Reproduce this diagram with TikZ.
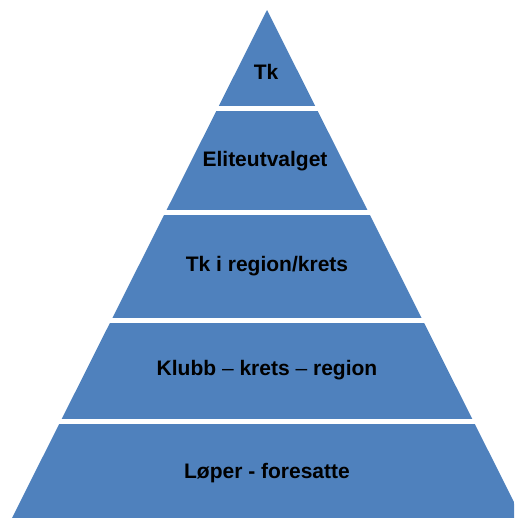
\documentclass[tikz,border=0pt]{standalone}
\usepackage{fontspec}
\setmainfont{Liberation Sans}
\definecolor{tierblue}{HTML}{4F81BD}
\begin{document}
\begin{tikzpicture}[x=1pt,y=-1pt,
  tier/.style={fill=tierblue},
  label/.style={font=\fontsize{21}{25}\selectfont\bfseries, text=black, anchor=base, inner sep=0pt}]
\useasboundingbox (0,0) rectangle (514,518);
\begin{scope}
  \clip (0,0) rectangle (514,518);
  \clip (267,10) -- (12,518) -- (522,518) -- cycle;
  \fill[tier] (0,10) rectangle (530,106);
  \fill[tier] (0,111) rectangle (530,210);
  \fill[tier] (0,215) rectangle (530,318);
  \fill[tier] (0,322.5) rectangle (530,419);
  \fill[tier] (0,424) rectangle (530,530);
\end{scope}
\node[label] (t1) at (266,80) {Tk};
\node[label] (t2) at (265,167) {Eliteutvalget};
\node[label] (t3) at (267,271) {Tk i region/krets};
\node[label] (t4) at (267,375) {Klubb {\mdseries –} krets {\mdseries –} region};
\node[label] (t5) at (267,478) {Løper - foresatte};
\end{tikzpicture}
\end{document}
